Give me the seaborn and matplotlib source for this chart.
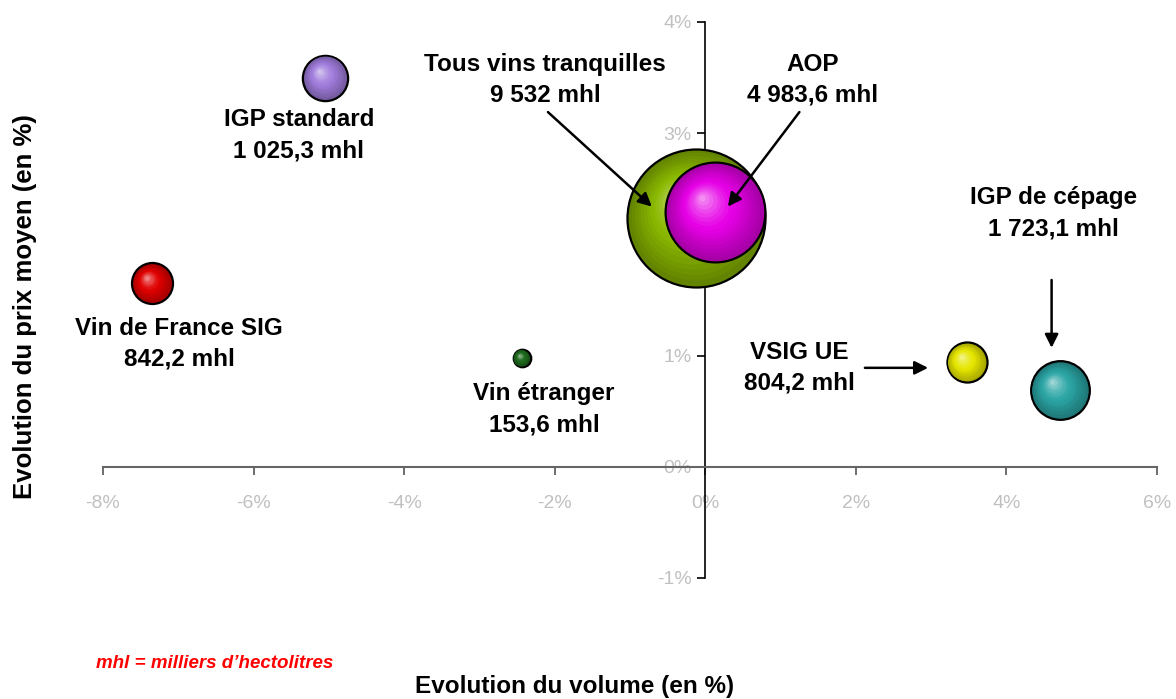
import numpy as np
import pandas as pd
import matplotlib
matplotlib.use('Agg')
import matplotlib.pyplot as plt
import matplotlib.transforms as mtransforms
from matplotlib.colors import to_rgb
from matplotlib.ticker import FuncFormatter
import seaborn as sns

# Data
segments = ['IGP standard', 'Vin de France SIG', 'Vin étranger', 'Tous vins tranquilles',
            'AOP', 'VSIG UE', 'IGP de cépage']
volumes = [1025.3, 842.2, 153.6, 9532.0, 4983.6, 804.2, 1723.1]   # mhl
vol_evol = [-5.05, -7.35, -2.44, -0.12, 0.13, 3.47, 4.71]        # % volume
price_evol = [3.50, 1.65, 0.98, 2.24, 2.29, 0.94, 0.69]          # % prix moyen
volume_labels = ['1 025,3 mhl', '842,2 mhl', '153,6 mhl', '9 532 mhl',
                 '4 983,6 mhl', '804,2 mhl', '1 723,1 mhl']
colors = ['#A07CDC', '#E00000', '#1E6B1E', '#8AB800', '#E600E6', '#E6E600', '#2BA5A5']

df = pd.DataFrame({'segment': segments, 'volume': volumes,
                   'x': vol_evol, 'y': price_evol, 'label': volume_labels})

sns.set_theme(style='white')
plt.rcParams['font.family'] = ['Liberation Sans', 'DejaVu Sans']

fig = plt.figure(figsize=(11.76, 6.99), dpi=100)
ax = fig.add_axes([103 / 1176, 121 / 699, 1054 / 1176, 556 / 699])
ax.set_xlim(-8, 6)
ax.set_ylim(-1, 4)

# bubble area proportional to volume
k = 1.036
df['s'] = df['volume'] * k

for i, row in df.iterrows():
    base = np.array(to_rgb(colors[i]))
    z = 3 + i
    sub = df.iloc[[i]]
    dark = base * 0.72
    sns.scatterplot(data=sub, x='x', y='y', s=row['s'], color=dark,
                    edgecolor='black', linewidth=1.6, ax=ax, zorder=z, legend=False)
    r_pt = np.sqrt(row['s']) / 2
    n = 16
    for j in range(1, n):
        f = 1 - j / n
        t = j / (n - 1)
        # darker rim -> base -> light highlight
        if t < 0.5:
            c = dark + (base - dark) * (t / 0.5)
        else:
            w = (t - 0.5) / 0.5
            c = base + (np.ones(3) - base) * 0.55 * w ** 1.3
        c = np.clip(c, 0, 1)
        off = mtransforms.offset_copy(ax.transData, fig=fig,
                                      x=-(1 - f) * 0.28 * r_pt,
                                      y=(1 - f) * 0.3 * r_pt, units='points')
        ax.scatter([row['x']], [row['y']], s=row['s'] * f ** 2 * 0.97, color=c,
                   linewidths=0, transform=off, zorder=z + 0.001 * j)

# text labels
label_pos = {
    'IGP standard': (-5.40, 2.98),
    'Vin de France SIG': (-6.99, 1.105),
    'Vin étranger': (-2.14, 0.52),
    'Tous vins tranquilles': (-2.13, 3.48),
    'AOP': (1.43, 3.48),
    'VSIG UE': (1.25, 0.89),
    'IGP de cépage': (4.62, 2.28),
}
for _, row in df.iterrows():
    lx, ly = label_pos[row['segment']]
    ax.text(lx, ly, row['segment'] + '\n' + row['label'], ha='center', va='center',
            fontsize=17.5, fontweight='bold', color='black', linespacing=1.45, zorder=20)

# arrows
arrows = [((-2.09, 3.19), (-0.71, 2.34)),
          ((1.25, 3.19), (0.30, 2.34)),
          ((4.60, 1.68), (4.60, 1.07)),
          ((2.12, 0.89), (2.96, 0.89))]
for start, end in arrows:
    ax.annotate('', xy=end, xytext=start,
                arrowprops=dict(arrowstyle='-|>', lw=1.8, color='black', mutation_scale=20,
                                shrinkA=0, shrinkB=0), zorder=25)

# axes crossing at zero
for side in ['top', 'right']:
    ax.spines[side].set_visible(False)
ax.spines['left'].set_position(('data', 0))
ax.spines['bottom'].set_position(('data', 0))
ax.spines['left'].set_color('black')
ax.spines['bottom'].set_color('#666666')
ax.spines['left'].set_linewidth(1.2)
ax.spines['bottom'].set_linewidth(1.5)
ax.spines['left'].set_zorder(1)
ax.spines['bottom'].set_zorder(1)

ax.set_xticks(range(-8, 7, 2))
ax.set_yticks(range(-1, 5))
pct = FuncFormatter(lambda v, p: f'{v:.0f}%')
ax.xaxis.set_major_formatter(pct)
ax.yaxis.set_major_formatter(pct)
ax.tick_params(axis='x', direction='out', length=6, width=1.2, color='#555555',
               labelcolor='#C0C0C0', labelsize=14, pad=14, bottom=True)
ax.tick_params(axis='y', direction='out', length=6, width=1.2, color='black',
               labelcolor='#C0C0C0', labelsize=14, pad=4, left=True)
ax.grid(False)
ax.set_xlabel('')
ax.set_ylabel('')

fig.text(575 / 1176, 1 - 687 / 699, 'Evolution du volume (en %)', ha='center', va='center',
         fontsize=17.5, fontweight='bold', color='black')
fig.text(25 / 1176, 1 - 307 / 699, 'Evolution du prix moyen (en %)', ha='center', va='center',
         rotation=90, fontsize=18.5, fontweight='bold', color='black')
fig.text(96 / 1176, 1 - 663 / 699, 'mhl = milliers d\u2019hectolitres', ha='left', va='center',
         fontsize=13.5, fontweight='bold', fontstyle='italic', color='#FF0000')

fig.savefig('out.png', dpi=100, facecolor='white')
